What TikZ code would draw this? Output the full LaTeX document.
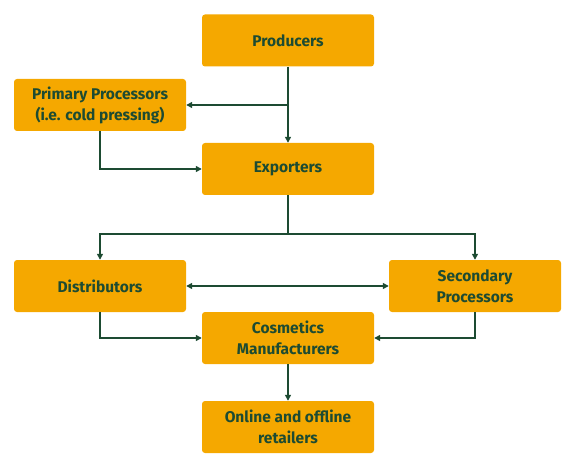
\documentclass[tikz,border=0pt]{standalone}
\usepackage{fontspec}
\setmainfont{Fira Sans}
\usetikzlibrary{arrows.meta}
\definecolor{boxfill}{HTML}{F5A800}
\definecolor{darkgreen}{HTML}{1D4B32}
\begin{document}
\begin{tikzpicture}[x=1pt,y=-1pt,
  box/.style={draw=none,fill=boxfill,rounded corners=3pt,minimum width=172pt,minimum height=52pt,
    text=darkgreen,font=\fontsize{15.5}{21}\selectfont\bfseries,align=center,inner sep=0pt},
  conn/.style={draw=darkgreen,line width=1.4pt,-{Triangle[length=6pt,width=6pt]}}]
\useasboundingbox (0,0) rectangle (576,468);
\node[box] (prod) at (288,40.5) {Producers};
\node[box] (prim) at (100,105) {Primary Processors\\(i.e. cold pressing)};
\node[box] (exp) at (288,169) {Exporters};
\node[box] (dist) at (100,286) {Distributors};
\node[box] (sec) at (475,286) {Secondary\\Processors};
\node[box] (cos) at (288,338) {Cosmetics\\Manufacturers};
\node[box] (onl) at (288,427) {Online and offline\\retailers};
\coordinate (b1) at (288,105);
\coordinate (b2) at (288,234);
\draw[conn] (prod) -- (exp);
\draw[conn] (b1) -- (prim.east);
\draw[conn] (prim.south) |- (exp.west);
\draw[conn] (exp.south) -- (b2) -| (dist.north);
\draw[conn] (b2) -| (sec.north);
\draw[conn,{Triangle[length=6pt,width=6pt]}-{Triangle[length=6pt,width=6pt]}] (dist.east) -- (sec.west);
\draw[conn] (dist.south) |- (cos.west);
\draw[conn] (sec.south) |- (cos.east);
\draw[conn] (cos) -- (onl);
\end{tikzpicture}
\end{document}
